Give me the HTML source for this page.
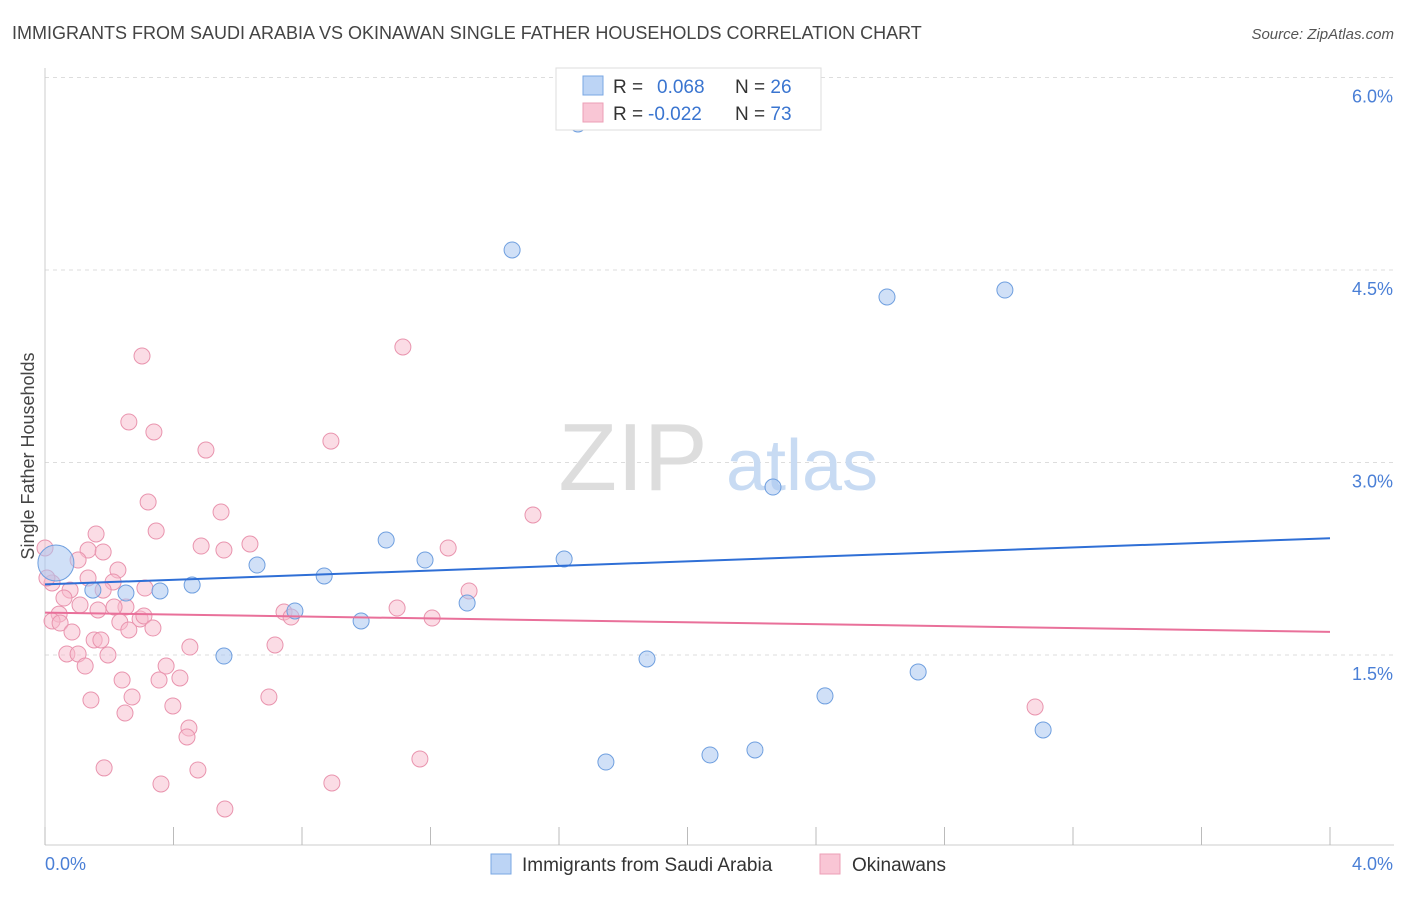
<!DOCTYPE html>
<html><head><meta charset="utf-8"><style>
body{margin:0;background:#fff;font-family:"Liberation Sans",sans-serif}
svg text{font-family:"Liberation Sans",sans-serif}
</style></head><body>
<svg id="chart" width="1406" height="892" viewBox="0 0 1406 892" xmlns="http://www.w3.org/2000/svg">
<text x="12" y="39" font-size="18" fill="#444">IMMIGRANTS FROM SAUDI ARABIA VS OKINAWAN SINGLE FATHER HOUSEHOLDS CORRELATION CHART</text>
<text x="1394" y="39" font-size="15" fill="#555" text-anchor="end" font-style="italic">Source: ZipAtlas.com</text>
<g id="grid"></g>
<g>
<text x="633" y="490" font-size="96" fill="#ddd" text-anchor="middle" font-family="Liberation Serif, serif">ZIP</text>
<text x="802" y="490" font-size="72" fill="#c8dbf3" text-anchor="middle">atlas</text>
</g>
<line x1="45" y1="845" x2="1394" y2="845" stroke="#ccc"/>
<line x1="45" y1="68" x2="45" y2="845" stroke="#ccc"/>
<g id="ticks"></g>
<text transform="translate(34,456) rotate(-90)" font-size="18" fill="#444" text-anchor="middle">Single Father Households</text>
<text x="45" y="870" font-size="18" fill="#4a7fd6">0.0%</text>
<text x="1393" y="870" font-size="18" fill="#4a7fd6" text-anchor="end">4.0%</text>
<g id="pts"></g>
<g id="lines"></g>
<g>
<rect x="556" y="68" width="265" height="62" fill="#fff" stroke="#ddd"/>
<rect x="583" y="76" width="20" height="19" fill="#bcd4f5" stroke="#7aa7e3"/>
<rect x="583" y="103" width="20" height="19" fill="#f9c6d5" stroke="#ec9fb6"/>
<text x="613" y="93" font-size="19" fill="#333">R = <tspan fill="#3a75d0" x="657">0.068</tspan><tspan x="735">N = </tspan><tspan fill="#3a75d0">26</tspan></text>
<text x="613" y="120" font-size="19" fill="#333">R = <tspan fill="#3a75d0" x="648">-0.022</tspan><tspan x="735">N = </tspan><tspan fill="#3a75d0">73</tspan></text>
</g>
<g>
<rect x="491" y="854" width="20" height="20" fill="#bcd4f5" stroke="#7aa7e3"/>
<text x="522" y="871" font-size="19" fill="#333">Immigrants from Saudi Arabia</text>
<rect x="820" y="854" width="20" height="20" fill="#f9c6d5" stroke="#ec9fb6"/>
<text x="852" y="871" font-size="19" fill="#333">Okinawans</text>
</g>
</svg>
<script>
const yTicks=[1.5,3.0,4.5,6.0];
const xTickVals=[0,0.4,0.8,1.2,1.6,2.0,2.4,2.8,3.2,3.6,4.0];
const blueX=[1.659,1.454,2.621,2.988,2.266,1.062,1.183,1.616,0.660,0.869,0.458,0.358,0.252,0.149,0.778,1.314,0.984,0.557,1.874,2.718,2.428,3.107,2.210,2.070,1.746];
const blueY=[5.638,4.656,4.290,4.344,2.809,2.396,2.240,2.248,2.201,2.116,2.045,1.999,1.983,2.006,1.843,1.905,1.765,1.492,1.469,1.368,1.181,0.916,0.760,0.721,0.666];
const blueBigX=[0.034];
const blueBigY=[2.217];
const pinkX=[0.302,1.114,0.261,0.339,0.890,0.501,0.321,0.548,1.519,0.159,0.346,0.638,0.486,0.557,1.255,0.134,0.181,0.103,0.227,0.134,0.022,0.212,0.078,0.181,0.059,0.311,0.109,0.165,0.252,0.044,0.215,0.022,0.047,0.296,0.308,0.233,0.336,0.261,0.084,0.153,0.174,0.744,0.766,1.096,1.205,1.320,0.068,0.103,0.196,0.451,0.716,0.377,0.125,0.420,0.240,0.355,0.143,0.271,0.398,0.697,0.249,0.448,0.442,0.184,0.476,0.361,0.893,0.560,1.167,3.082,0.006,0.0];
const pinkY=[3.830,3.900,3.316,3.238,3.167,3.097,2.692,2.614,2.591,2.443,2.466,2.365,2.349,2.318,2.334,2.318,2.303,2.240,2.162,2.100,2.061,2.069,2.006,2.006,1.944,2.022,1.890,1.851,1.874,1.819,1.874,1.765,1.749,1.781,1.804,1.757,1.710,1.695,1.679,1.617,1.617,1.835,1.796,1.866,1.788,1.999,1.508,1.508,1.500,1.562,1.578,1.414,1.414,1.321,1.305,1.305,1.149,1.173,1.103,1.173,1.048,0.931,0.861,0.620,0.604,0.495,0.503,0.300,0.690,1.095,2.100,2.334];
const blueTrend=[2.05,2.41];
const pinkTrend=[1.83,1.68];
const NS='http://www.w3.org/2000/svg';
const sx=v=>45+v/4*1285;
const sy=v=>655-(v-1.5)*128.33;
function mk(tag,attrs,parent){const e=document.createElementNS(NS,tag);for(const k in attrs)e.setAttribute(k,attrs[k]);parent.appendChild(e);return e;}
const grid=document.getElementById('grid');
yTicks.forEach(t=>{
 const l=mk('line',{x1:45,x2:1394,y1:sy(t),y2:sy(t),stroke:'#ddd','stroke-dasharray':'4,4'},grid);
 
 
 const tx=mk('text',{x:1393,y:sy(t)+25,'font-size':18,fill:'#4a7fd6','text-anchor':'end'},grid);
 tx.textContent=t.toFixed(1)+'%';
 
 
});
const ticks=document.getElementById('ticks');
xTickVals.forEach(t=>{
 const l=mk('line',{x1:sx(t),x2:sx(t),y1:827,y2:845,stroke:'#bbb'},ticks);
 
 
});
const pts=document.getElementById('pts');
pinkX.forEach((x,i)=>{
 const c=mk('circle',{cx:sx(x),cy:sy(pinkY[i]),r:8,fill:'#f7b9cb','fill-opacity':0.5,stroke:'#e994ae','stroke-width':1},pts);
 
 
});
blueX.forEach((x,i)=>{
 const c=mk('circle',{cx:sx(x),cy:sy(blueY[i]),r:8,fill:'#a9c7f0','fill-opacity':0.55,stroke:'#6f9fdf','stroke-width':1},pts);
 
 
});
blueBigX.forEach((x,i)=>{
 const c=mk('circle',{cx:sx(x),cy:sy(blueBigY[i]),r:18,fill:'#a9c7f0','fill-opacity':0.55,stroke:'#6f9fdf','stroke-width':1},pts);
 
 
});
const lines=document.getElementById('lines');
const bl=mk('line',{x1:sx(0),y1:sy(blueTrend[0]),x2:sx(4),y2:sy(blueTrend[1]),stroke:'#2f6fd6','stroke-width':2},lines);


const pl=mk('line',{x1:sx(0),y1:sy(pinkTrend[0]),x2:sx(4),y2:sy(pinkTrend[1]),stroke:'#e9709a','stroke-width':2},lines);


</script>
</body></html>
